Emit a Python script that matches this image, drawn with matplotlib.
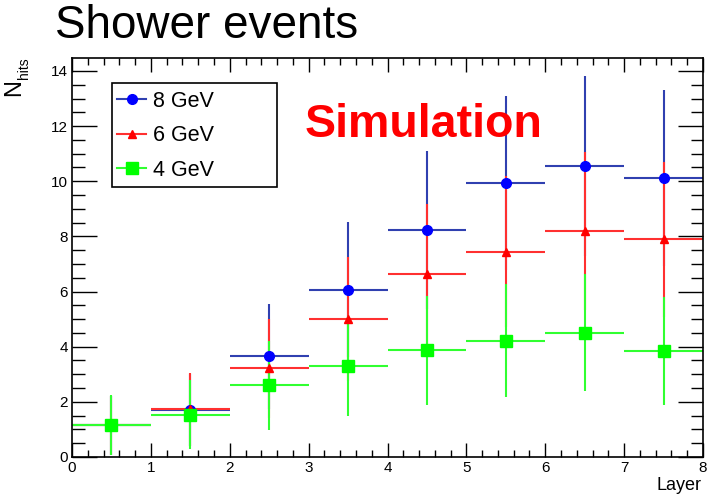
import numpy as np
import matplotlib
matplotlib.use("Agg")
import matplotlib.pyplot as plt
from matplotlib.lines import Line2D
from matplotlib.patches import Rectangle
from matplotlib.ticker import MultipleLocator

plt.rcParams['font.family'] = ['Liberation Sans', 'DejaVu Sans']

layers = [0.5, 1.5, 2.5, 3.5, 4.5, 5.5, 6.5, 7.5]
bin_half = [0.5] * 8

e8_vals = [1.15, 1.70, 3.65, 6.07, 8.24, 9.93, 10.55, 10.12]
e8_errs = [1.07, 1.30, 1.91, 2.46, 2.87, 3.15, 3.25, 3.18]
e6_vals = [1.15, 1.73, 3.22, 5.00, 6.62, 7.45, 8.20, 7.90]
e6_errs = [1.07, 1.32, 1.79, 2.24, 2.57, 2.73, 2.86, 2.81]
e4_vals = [1.16, 1.54, 2.60, 3.29, 3.87, 4.22, 4.51, 3.86]
e4_errs = [1.08, 1.24, 1.61, 1.81, 1.97, 2.05, 2.12, 1.96]

labels = ["8 GeV", "6 GeV", "4 GeV"]
line_colors = ["#3040b0", "#ff3030", "#30ff30"]
marker_colors = ["#0000ff", "#ff0000", "#00ff00"]
markers = ["o", "^", "s"]
msizes = [7, 6, 8]

W, H = 718, 500
fig = plt.figure(figsize=(W/100, H/100), dpi=100)
ax = fig.add_axes([72/W, 43/H, (703-72)/W, (457-58)/H])

series = [(e8_vals, e8_errs), (e6_vals, e6_errs), (e4_vals, e4_errs)]
for i, (vals, errs) in enumerate(series):
    ax.errorbar(layers, vals, xerr=bin_half, yerr=errs, fmt='none',
                ecolor=line_colors[i], elinewidth=1.5, capsize=0, zorder=2 + i * 0.1)
for i, (vals, errs) in enumerate(series):
    ax.plot(layers, vals, linestyle='none', marker=markers[i],
            mfc=marker_colors[i], mec=marker_colors[i], ms=msizes[i], zorder=3 + i * 0.1)

ax.set_xlim(0, 8)
ax.set_ylim(0, 14.47)
ax.xaxis.set_major_locator(MultipleLocator(1))
ax.xaxis.set_minor_locator(MultipleLocator(0.2))
ax.yaxis.set_major_locator(MultipleLocator(2))
ax.yaxis.set_minor_locator(MultipleLocator(0.5))
ax.tick_params(which='both', direction='in', top=True, right=True,
               labelsize=11, width=1, colors='black')
ax.tick_params(axis='x', which='major', length=10, pad=3)
ax.tick_params(axis='x', which='minor', length=5)
ax.tick_params(axis='y', which='major', length=18, pad=3)
ax.tick_params(axis='y', which='minor', length=9)
for sp in ax.spines.values():
    sp.set_linewidth(1.2)

# legend box (ROOT-style fixed frame)
ax.add_patch(Rectangle((112/W, 1 - 187/H), 165/W, 104/H, transform=fig.transFigure,
                       fill=True, facecolor='white', edgecolor='black', lw=1.2,
                       zorder=5, clip_on=False))
handles = [Line2D([0], [0], color=line_colors[i], marker=markers[i],
                  mfc=marker_colors[i], mec=marker_colors[i], ms=msizes[i], lw=1.5)
           for i in range(3)]
leg = ax.legend(handles, labels, loc='upper left',
                bbox_to_anchor=((117-72)/631, (457-91)/399),
                fontsize=15.5, frameon=False,
                handlelength=1.35, handletextpad=0.3, labelspacing=0.62,
                borderpad=0, borderaxespad=0)
leg.set_zorder(6)

fig.text(305/W, 1 - 137/H, "Simulation", color='red', fontsize=33.5,
         fontweight='bold', ha='left', va='baseline')
fig.text(55/W, 1 - 38/H, "Shower events", fontsize=33, ha='left', va='baseline')
fig.text(14/W, 1 - 79/H, "N", fontsize=17, rotation=90, ha='center', va='top')
fig.text(24/W, 1 - 57/H, "hits", fontsize=10, rotation=90, ha='center', va='top')
fig.text(702/W, 1 - 490/H, "Layer", fontsize=13, ha='right', va='baseline')

fig.savefig("out.png", dpi=100)
